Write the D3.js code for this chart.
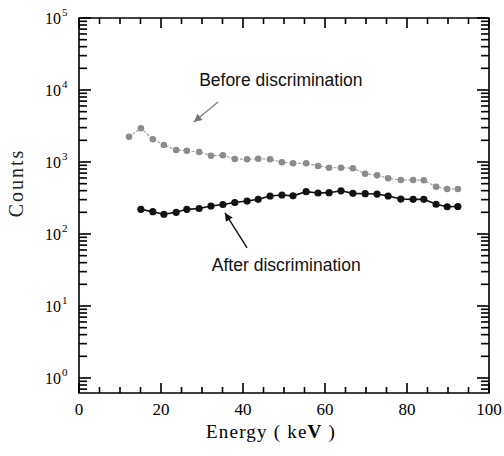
<!DOCTYPE html>
<html>
<head>
<meta charset="utf-8">
<script src="https://cdn.jsdelivr.net/npm/d3@7"></script>
<style>
  body { margin: 0; background: #fff; }
  svg { display: block; }
</style>
</head>
<body>
<div id="chart"></div>
<script>
// Data
const beforeEnergy = [12.2, 15.1, 18.0, 20.7, 23.7, 26.3, 29.3, 32.2, 35.1, 38.0, 41.0, 43.7, 46.6, 49.5, 52.2,
  55.4, 58.3, 61.0, 63.9, 66.8, 69.8, 72.7, 75.4, 78.5, 81.5, 84.1, 87.1, 89.8, 92.4];
const beforeCounts = [2246, 2938, 2067, 1722, 1468, 1435, 1377, 1223, 1239, 1101, 1090, 1111, 1090, 990, 959,
  959, 880, 834, 834, 818, 688, 653, 594, 562, 562, 557, 454, 422, 422];
const afterEnergy = [15.1, 18.0, 20.7, 23.7, 26.3, 29.3, 32.2, 35.1, 38.0, 41.0, 43.7, 46.6, 49.5, 52.2,
  55.4, 58.3, 61.0, 63.9, 66.8, 69.8, 72.7, 75.4, 78.5, 81.5, 84.1, 87.1, 89.8, 92.4];
const afterCounts = [220, 204, 188, 200, 220, 226, 245, 257, 274, 287, 303, 337, 348, 339,
  387, 371, 375, 398, 367, 363, 359, 337, 306, 303, 303, 259, 239, 241];
const xTickLabels = [0, 20, 40, 60, 80, 100];
const yDecades = [0, 1, 2, 3, 4, 5];

const width = 504, height = 456;
const plotLeft = 79, plotRight = 489, plotTop = 18, plotBottom = 393;

const svg = d3.select('#chart').append('svg')
  .attr('width', width)
  .attr('height', height);

const x = d3.scaleLinear().domain([0, 100]).range([plotLeft, plotRight]);
// bottom edge sits a bit below 10^0
const y = d3.scaleLog().domain([Math.pow(10, -15 / 72), 1e5]).range([plotBottom, plotTop]);

const serif = '"Liberation Serif", "Times New Roman", serif';
const sans = '"Liberation Sans", Arial, sans-serif';

// frame
svg.append('path')
  .attr('d', `M${plotLeft},${plotTop}H${plotRight}V${plotBottom}H${plotLeft}Z`)
  .attr('fill', 'none')
  .attr('stroke', '#000')
  .attr('stroke-width', 1.6);

// ============================================
// Ticks as thin filled rects (pointing inward)
// ============================================
const minorX = d3.range(0, 101, 5);
const xTicks = minorX.map(v => ({ v, len: v % 20 === 0 ? 10 : 6 }));

// 1..9 x 10^k inside the domain
const yTicks = y.ticks(10)
  .filter(v => v >= y.domain()[0])
  .map(v => ({ v, len: Math.abs(Math.log10(v) - Math.round(Math.log10(v))) < 1e-6 ? 12 : 8 }));

const tickW = 1.6;
const tickG = svg.append('g').attr('fill', '#000');

tickG.selectAll('rect.xb')
  .data(xTicks)
  .join('rect')
  .attr('class', 'xb')
  .attr('x', d => x(d.v) - tickW / 2)
  .attr('y', d => plotBottom - d.len)
  .attr('width', tickW)
  .attr('height', d => d.len);

tickG.selectAll('rect.xt')
  .data(xTicks)
  .join('rect')
  .attr('class', 'xt')
  .attr('x', d => x(d.v) - tickW / 2)
  .attr('y', plotTop)
  .attr('width', tickW)
  .attr('height', d => d.len);

tickG.selectAll('rect.yl')
  .data(yTicks)
  .join('rect')
  .attr('class', 'yl')
  .attr('x', plotLeft)
  .attr('y', d => y(d.v) - tickW / 2)
  .attr('width', d => d.len)
  .attr('height', tickW);

tickG.selectAll('rect.yr')
  .data(yTicks)
  .join('rect')
  .attr('class', 'yr')
  .attr('x', d => plotRight - d.len)
  .attr('y', d => y(d.v) - tickW / 2)
  .attr('width', d => d.len)
  .attr('height', tickW);

// x tick labels
svg.append('g').selectAll('text')
  .data(xTickLabels)
  .join('text')
  .attr('x', d => x(d))
  .attr('y', plotBottom + 22)
  .attr('text-anchor', 'middle')
  .attr('font-family', serif)
  .attr('font-size', '17px')
  .attr('fill', '#000')
  .text(d => d);

// y tick labels: 10 with superscript exponent
const yLab = svg.append('g').selectAll('text')
  .data(yDecades)
  .join('text')
  .attr('x', 45)
  .attr('y', d => y(Math.pow(10, d)) + 5.5)
  .attr('font-family', serif)
  .attr('font-size', '16px')
  .attr('fill', '#000');
yLab.append('tspan').text('10');
yLab.append('tspan')
  .attr('dx', 1)
  .attr('dy', -8)
  .attr('font-size', '11px')
  .text(d => d);

// axis titles
svg.append('text')
  .attr('x', 271)
  .attr('y', 438)
  .attr('text-anchor', 'middle')
  .attr('font-family', serif)
  .attr('font-size', '19px')
  .attr('letter-spacing', '1.2px')
  .attr('fill', '#000')
  .html('Energy ( ke<tspan font-weight="bold">V</tspan> )');

svg.append('text')
  .attr('transform', 'translate(23,183) rotate(-90)')
  .attr('text-anchor', 'middle')
  .attr('font-family', serif)
  .attr('font-size', '20px')
  .attr('letter-spacing', '2px')
  .attr('fill', '#222')
  .text('Counts');

// ============================================
// Series
// ============================================
const before = beforeEnergy.map((e, i) => ({ e, c: beforeCounts[i] }));
const after = afterEnergy.map((e, i) => ({ e, c: afterCounts[i] }));

const line = d3.line().x(d => x(d.e)).y(d => y(d.c));

svg.append('path')
  .datum(before)
  .attr('d', line)
  .attr('fill', 'none')
  .attr('stroke', '#999')
  .attr('stroke-width', 1.1)
  .attr('stroke-dasharray', '3,1.5');

svg.append('g').selectAll('circle')
  .data(before)
  .join('circle')
  .attr('cx', d => x(d.e))
  .attr('cy', d => y(d.c))
  .attr('r', 3.3)
  .attr('fill', '#8c8c8c');

svg.append('path')
  .datum(after)
  .attr('d', line)
  .attr('fill', 'none')
  .attr('stroke', '#111')
  .attr('stroke-width', 1.6);

svg.append('g').selectAll('circle')
  .data(after)
  .join('circle')
  .attr('cx', d => x(d.e))
  .attr('cy', d => y(d.c))
  .attr('r', 3.6)
  .attr('fill', '#111');

// ============================================
// Annotations
// ============================================
const defs = svg.append('defs');
function addHead(id, color, w, h) {
  defs.append('marker')
    .attr('id', id)
    .attr('viewBox', '0 0 10 10')
    .attr('refX', 10).attr('refY', 5)
    .attr('markerUnits', 'userSpaceOnUse')
    .attr('markerWidth', w).attr('markerHeight', h)
    .attr('orient', 'auto')
    .append('path')
    .attr('d', 'M0,0 L10,5 L0,10 Z')
    .attr('fill', color);
}
addHead('head-gray', '#777', 10, 8);
addHead('head-black', '#111', 12, 8);

svg.append('line')
  .attr('x1', x(33.9)).attr('y1', y(6810))
  .attr('x2', x(28.0)).attr('y2', y(3594))
  .attr('stroke', '#777')
  .attr('stroke-width', 1.1)
  .attr('marker-end', 'url(#head-gray)');

svg.append('line')
  .attr('x1', x(41.0)).attr('y1', y(64))
  .attr('x2', x(35.6)).attr('y2', y(196))
  .attr('stroke', '#111')
  .attr('stroke-width', 1.4)
  .attr('marker-end', 'url(#head-black)');

svg.append('text')
  .attr('x', x(29.3)).attr('y', y(11370))
  .attr('font-family', sans)
  .attr('font-size', '17.5px')
  .attr('fill', '#111')
  .text('Before discrimination');

svg.append('text')
  .attr('x', x(32.4)).attr('y', y(30.6))
  .attr('font-family', sans)
  .attr('font-size', '17.5px')
  .attr('fill', '#111')
  .text('After discrimination');
</script>
</body>
</html>
